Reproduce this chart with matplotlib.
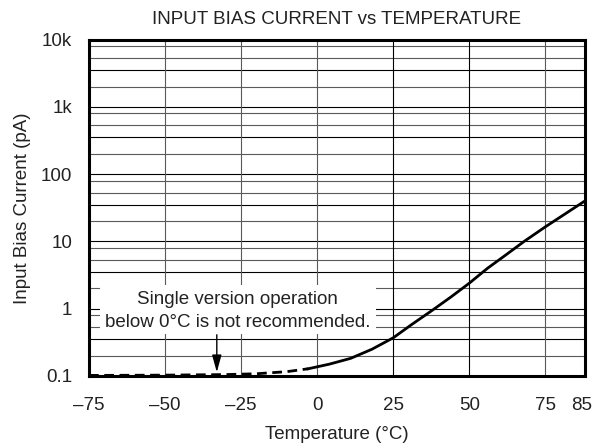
import numpy as np
import matplotlib
matplotlib.use('Agg')
import matplotlib.pyplot as plt
from matplotlib.patches import Rectangle

plt.rcParams['font.family'] = ['Liberation Sans', 'DejaVu Sans']
plt.rcParams['font.size'] = 13.5

# データ
temp_dash = [-75, -50, -30, -20, -10, -3]
ib_dash = [0.102, 0.103, 0.105, 0.108, 0.116, 0.128]
temp_solid = [-3, 4, 11, 18, 25, 31, 38, 44, 50, 56, 62, 68, 75, 88]
ib_solid = [0.128, 0.15, 0.183, 0.25, 0.37, 0.58, 0.96, 1.5, 2.4, 4.0, 6.3, 10, 16.5, 40]

xtick_pos = [-75, -50, -25, 0, 25, 50, 75, 87]
xtick_lab = ['\u201375', '\u201350', '\u201325', '0', '25', '50', '75', '85']
ytick_pos = [0.1, 1, 10, 100, 1000, 10000]
ytick_lab = ['0.1', '1', '10', '100', '1k', '10k']

fig = plt.figure(figsize=(5.99, 4.47), dpi=100)
ax = fig.add_axes([89/599, 1-376/447, 496/599, 336.5/447])

ax.set_yscale('log')
ax.set_xlim(-75, 88)
ax.set_ylim(0.1, 10000)

# グリッド（黒とグレー）
gray = '#5a5a5a'
for dec in [0.1, 1, 10, 100, 1000]:
    for m, c in [(1, 'k'), (2, gray), (3.5, 'k'), (5.3, gray), (8, gray)]:
        ax.axhline(dec*m, color=c, lw=0.8, zorder=1)
for xv, c in [(-50, gray), (-25, gray), (0, gray), (25, 'k'), (50, 'k'), (75, gray)]:
    ax.axvline(xv, color=c, lw=0.8, zorder=1)

# 注記ボックス
ax.add_patch(Rectangle((0.022, 0.125), 0.557, 0.145, transform=ax.transAxes,
                       facecolor='white', edgecolor='none', zorder=2))
ax.text(0.300, 0.193, 'Single version operation\nbelow 0\u00b0C is not recommended.',
        transform=ax.transAxes, ha='center', va='center', fontsize=13.5,
        linespacing=1.42, zorder=3, color='#222222')
ax.annotate('', xy=(-33, 0.114), xytext=(-33, 0.41),
            arrowprops=dict(arrowstyle='-|>,head_length=0.8,head_width=0.22',
                            color='k', lw=1, mutation_scale=13,
                            shrinkA=0, shrinkB=0), zorder=3)

# 曲線
ax.plot(temp_dash, ib_dash, color='k', lw=2, dashes=(3.5, 2), zorder=4)
ax.plot(temp_solid, ib_solid, color='k', lw=2, zorder=4)

ax.set_xticks(xtick_pos)
ax.set_xticklabels(xtick_lab)
ax.set_yticks(ytick_pos)
ax.set_yticklabels(ytick_lab)
ax.minorticks_off()
ax.tick_params(length=0, labelcolor='#222222')
ax.tick_params(axis='x', pad=15)
ax.tick_params(axis='y', pad=12)

for s in ax.spines.values():
    s.set_linewidth(2.2)
    s.set_zorder(5)

ax.set_title('INPUT BIAS CURRENT vs TEMPERATURE', fontsize=13.5, pad=11, color='#222222')
ax.set_xlabel('Temperature (\u00b0C)', fontsize=13.5, labelpad=9, color='#222222')
ax.set_ylabel('Input Bias Current (pA)', fontsize=13.5, labelpad=7, color='#222222')

fig.savefig('out.png', dpi=100)
